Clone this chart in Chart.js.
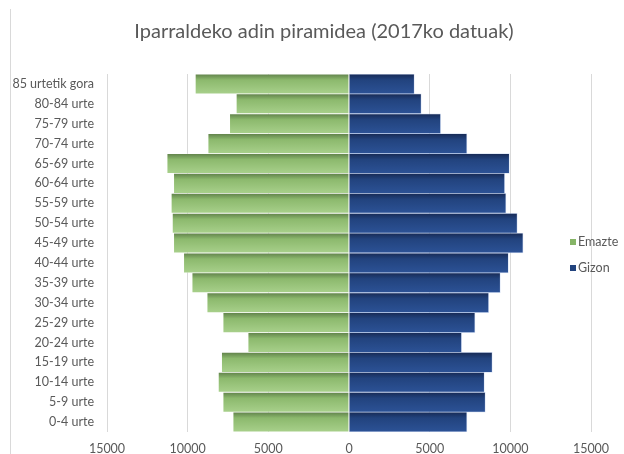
<!DOCTYPE html>
<html>
<head>
<meta charset="utf-8">
<script src="https://cdn.jsdelivr.net/npm/chart.js@4.4.0/dist/chart.umd.min.js"></script>
<style>
  html, body { margin: 0; padding: 0; background: #fff; }
  #wrap { position: relative; width: 624px; height: 454px; }
  #frame { position: absolute; left: 10px; top: 9px; width: 0; height: 445px; border-left: 1px solid #d9d9d9; pointer-events: none; }
</style>
</head>
<body>
<div id="wrap">
  <canvas id="pyramid" width="624" height="454"></canvas>
  <div id="frame"></div>
</div>
<script>
// adin taldeak, goitik behera
var ageGroups = ['85 urtetik gora', '80-84 urte', '75-79 urte', '70-74 urte', '65-69 urte',
  '60-64 urte', '55-59 urte', '50-54 urte', '45-49 urte', '40-44 urte', '35-39 urte',
  '30-34 urte', '25-29 urte', '20-24 urte', '15-19 urte', '10-14 urte', '5-9 urte', '0-4 urte'];
var emazte = [9530, 6990, 7400, 8740, 11280, 10870, 11020, 10950, 10870, 10250, 9730,
  8800, 7810, 6260, 7900, 8100, 7810, 7190];
var gizon = [4050, 4480, 5680, 7310, 9940, 9650, 9730, 10430, 10790, 9880, 9380,
  8660, 7810, 6980, 8880, 8390, 8450, 7310];
var xTicks = [-15000, -10000, -5000, 0, 5000, 10000, 15000];
var seriesNames = ['Emazte', 'Gizon'];
var titleText = 'Iparraldeko adin piramidea (2017ko datuak)';

var FONT = 'Lato, "Liberation Sans", sans-serif';
var GREY = '#595959';

function barGradient(stops) {
  return function(ctx) {
    var chart = ctx.chart;
    var y = chart.scales.y;
    var fallback = stops[stops.length - 1][1];
    if (!y || ctx.dataIndex === undefined) return fallback;
    var band = (y.bottom - y.top) / ageGroups.length;
    var mid = y.getPixelForValue(ctx.dataIndex);
    if (!isFinite(band) || !isFinite(mid) || band <= 0) return fallback;
    var g = chart.ctx.createLinearGradient(0, mid - band / 2, 0, mid + band / 2);
    stops.forEach(function(s) { g.addColorStop(s[0], s[1]); });
    return g;
  };
}

// izenburua eta legenda (Excel-en antzera kokatuta)
var decor = {
  id: 'decor',
  afterDraw: function(chart) {
    var c = chart.ctx;
    c.save();
    c.fillStyle = GREY;
    c.font = '20px ' + FONT;
    c.textAlign = 'center';
    c.textBaseline = 'middle';
    c.fillText(titleText, 324, 32);

    var colors = ['#86b567', '#22437e'];
    var ys = [242, 268];
    c.font = '12.5px ' + FONT;
    c.textAlign = 'left';
    chart.data.datasets.forEach(function(ds, i) {
      c.fillStyle = colors[i];
      c.fillRect(570, ys[i] - 3, 6, 6);
      c.fillStyle = GREY;
      c.fillText(ds.label, 578, ys[i]);
    });
    c.restore();
  }
};

var chart = new Chart(document.getElementById('pyramid'), {
  type: 'bar',
  data: {
    labels: ageGroups,
    datasets: [{
      label: seriesNames[0],
      data: emazte.map(function(v) { return -v; }),
      backgroundColor: barGradient([[0, '#60814a'], [0.3, '#8cb96d'], [1, '#a8d08b']]),
      borderColor: 'rgba(255,255,255,0.35)',
      borderWidth: 0.75,
      barPercentage: 1,
      categoryPercentage: 1
    }, {
      label: seriesNames[1],
      data: gizon,
      backgroundColor: barGradient([[0, '#172a55'], [0.3, '#22437e'], [1, '#2c5296']]),
      borderColor: 'rgba(160,185,230,0.45)',
      borderWidth: 0.75,
      barPercentage: 1,
      categoryPercentage: 1
    }]
  },
  options: {
    indexAxis: 'y',
    responsive: false,
    animation: false,
    layout: { padding: { left: 10, right: 33, top: 74, bottom: 0 } },
    plugins: {
      legend: { display: false },
      tooltip: { enabled: false },
      title: { display: false }
    },
    scales: {
      x: {
        stacked: true,
        min: -15000,
        max: 15000,
        afterBuildTicks: function(s) { s.ticks = xTicks.map(function(v) { return { value: v }; }); },
        afterFit: function(s) { s.height = 22; },
        ticks: {
          color: GREY,
          padding: 9,
          maxRotation: 0,
          font: { family: FONT, size: 12.5 },
          callback: function(v) { return String(Math.abs(v)); }
        },
        grid: { color: '#d9d9d9', drawTicks: false },
        border: { display: false }
      },
      y: {
        stacked: true,
        afterFit: function(s) { s.width = 97; },
        ticks: {
          color: GREY,
          padding: 13,
          font: { family: FONT, size: 12.5 }
        },
        grid: { display: false, drawTicks: false },
        border: { display: false }
      }
    }
  },
  plugins: [decor]
});
</script>
</body>
</html>
